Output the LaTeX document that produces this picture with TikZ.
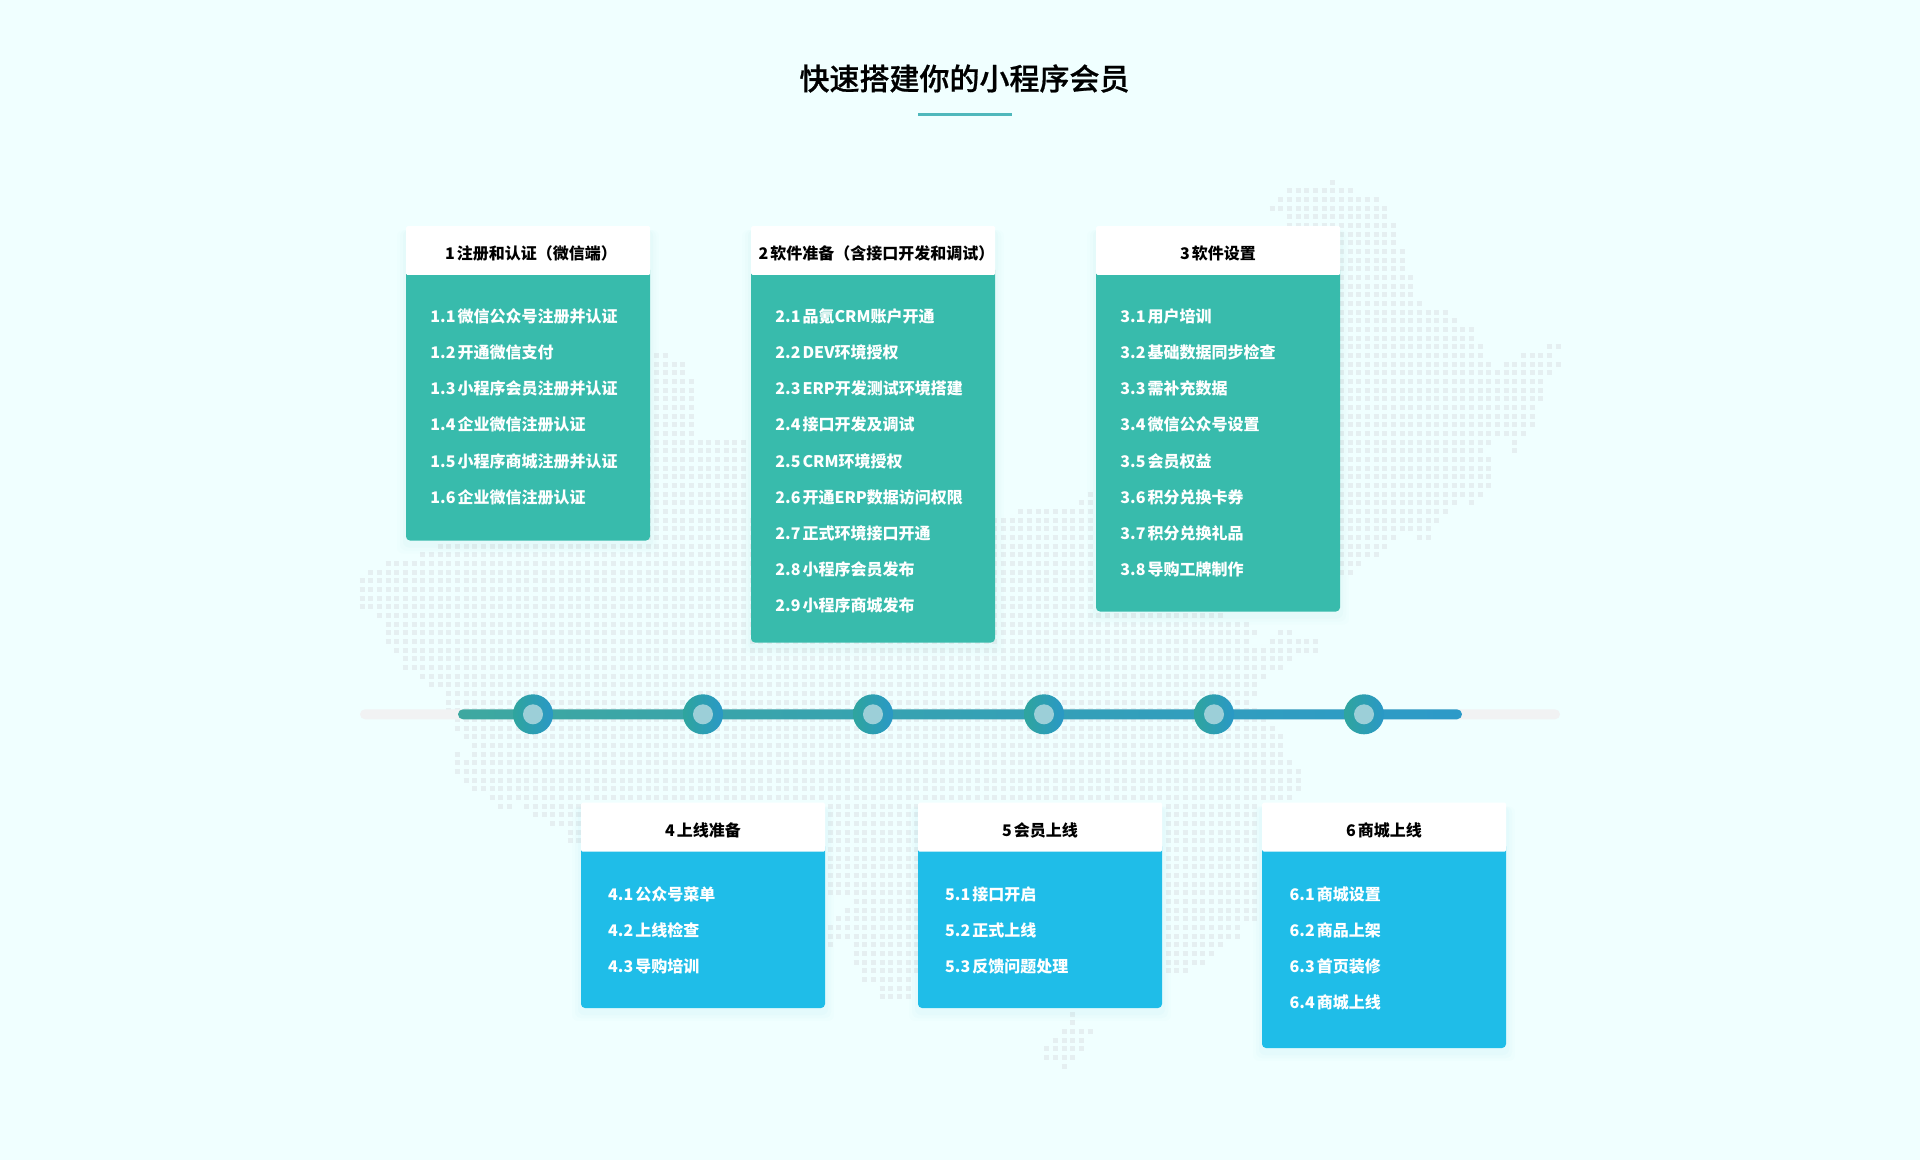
\documentclass[tikz,border=0pt]{standalone}
\usepackage{fontspec}
\setmainfont[WordSpace=0.55]{Noto Sans CJK SC}
\newfontface\titleface[FakeBold=0.7]{Noto Sans CJK SC Medium}
\definecolor{pagebg}{HTML}{F0FFFF}
\definecolor{dotgrey}{HTML}{E5EFF1}
\definecolor{tealbox}{HTML}{38BBAC}
\definecolor{bluebox}{HTML}{1FBDE8}
\definecolor{railgrey}{HTML}{F1F2F3}
\definecolor{railleft}{HTML}{3EA8A0}
\definecolor{railright}{HTML}{2D9AC8}
\definecolor{ringleft}{HTML}{2FA59E}
\definecolor{ringright}{HTML}{2A98C6}
\definecolor{hubcol}{HTML}{9CCFD8}
\definecolor{ruleteal}{HTML}{4FB8BC}
\tikzset{
  dotrow/.style={draw=dotgrey,line width=5pt,dash pattern=on 5pt off 3.667pt},
  headbox/.style={fill=white,inner sep=0pt,minimum width=244pt,minimum height=49pt,anchor=north west,
    rounded corners=1.5pt},
  headtext/.style={inner sep=0pt,font=\fontsize{16}{18}\selectfont\bfseries,text=black,text height=12pt,text depth=2pt},
  itemtext/.style={inner sep=0pt,anchor=west,font=\fontsize{16}{18}\selectfont\bfseries,text=white,text height=12pt,text depth=2pt},
  ring/.style={circle,inner sep=0pt,minimum size=40pt,left color=ringleft,right color=ringright},
  hub/.style={circle,inner sep=0pt,minimum size=20pt,fill=hubcol},
}
% name, left, top, bottom, colour, heading node, first-line y offset, text indent, items
\newcommand{\cardbox}[9]{%
  \foreach \g/\o in {9/0.010,6/0.015,3/0.022}{
    \fill[#5,opacity=\o,rounded corners=6pt] ({#2-\g},{#3+4}) rectangle ({#2+244+\g},{#4+4+\g});
  }
  \fill[#5,rounded corners=4pt] (#2,{#3+40}) rectangle ({#2+244},#4);
  \node[headbox] (h#1) at (#2,#3) {};
  \fill[#5] (#2,{#3+49}) rectangle ({#2+244},{#3+56});
  #6
  \foreach \t [count=\k from 0] in {#9}{
    \node[itemtext] (t#1-\k) at ({#2+#8},{#3+#7+36.15*\k}) {\t};
  }
}
\begin{document}
\begin{tikzpicture}[x=1pt,y=-1pt]
\fill[pagebg] (0,0) rectangle (1920,1160);
\useasboundingbox (0,0) rectangle (1920,1160);
% dotted map: row / first column / last column
\foreach \r/\a/\b in {
0/112/112,1/107/114,2/106/117,3/105/118,4/107/118,5/107/119,6/100/119,7/100/119,
8/100/120,9/100/120,10/100/120,11/100/121,12/100/121,13/100/121,14/100/122,15/100/125,
16/100/126,17/100/128,18/100/128,19/100/129,19/137/138,
20/34/35,20/100/129,20/134/137,21/34/37,21/100/130,21/132/138,22/34/37,22/100/137,
23/34/38,23/100/136,24/34/38,24/100/136,25/34/38,25/100/136,26/34/38,26/100/135,
27/34/38,27/100/135,28/34/38,28/100/135,29/34/38,29/100/134,
30/6/44,30/100/130,30/133/133,31/6/44,31/100/129,31/133/133,
32/6/44,32/100/130,33/6/44,33/100/130,34/6/44,34/100/130,35/6/44,35/100/130,
36/6/44,36/84/129,37/6/44,37/83/126,37/128/128,38/6/44,38/76/125,
39/6/124,40/6/123,41/6/119,41/122/123,42/9/118,43/7/117,44/3/115,45/1/114,
46/0/112,47/0/112,48/0/112,49/0/112,50/2/99,51/3/102,52/3/103,52/106/107,
53/3/102,53/105/110,54/4/110,55/5/107,56/5/106,57/7/104,58/8/103,59/10/103,60/10/102,
61/10/103,62/11/104,63/11/105,64/12/106,65/13/106,66/11/11,66/13/106,67/11/107,
68/11/108,69/12/108,70/13/108,71/15/107,72/16/17,72/19/103,73/20/103,74/22/103,
75/24/103,76/24/103,77/40/103,78/40/103,79/40/103,80/40/103,81/40/103,82/40/103,
83/57/103,84/56/103,85/55/103,86/54/101,87/54/101,88/54/54,88/57/99,89/57/98,
90/57/97,91/58/95,92/58/63,93/60/63,94/60/63,
96/82/82,97/82/82,98/81/84,99/80/83,100/79/83,101/79/82,102/81/81}{
  \draw[dotrow] ({362+8.6667*\a-2.5},{182+8.6667*\r}) -- ({362+8.6667*\b+2.5},{182+8.6667*\r});
}
% title
\node[inner sep=0pt,font=\fontsize{30}{34}\titleface,text=black] (title) at (964.5,78.5) {快速搭建你的小程序会员};
\coordinate (ruleL) at (918,114.5);
\coordinate (ruleR) at (1012,114.5);
\draw[ruleteal,line width=3pt] (ruleL) -- (ruleR);
% timeline
\coordinate (trackL) at (360,709.3);
\coordinate (trackR) at (1560,719.3);
\fill[railgrey,rounded corners=5pt] (trackL) rectangle (trackR);
\coordinate (railL) at (458,709.3);
\coordinate (railR) at (1462,719.3);
\path[left color=railleft,right color=railright,rounded corners=5pt] (railL) rectangle (railR);
\foreach \n/\x in {1/533,2/703,3/873,4/1044,5/1214,6/1364}{
  \node[ring] (ring\n) at (\x,714.3) {};
  \node[hub] (hub\n) at (\x,714.3) {};
}
% cards
\cardbox{1}{406}{226}{540.5}{tealbox}{\node[headtext] (ht1) at (531,254.5) {1 注册和认证（微信端）};}{91.5}{24.2}{1.1 微信公众号注册并认证,1.2 开通微信支付,1.3 小程序会员注册并认证,1.4 企业微信注册认证,1.5 小程序商城注册并认证,1.6 企业微信注册认证}
\cardbox{2}{751}{226}{642.5}{tealbox}{\node[headtext] (ht2) at (876.5,254.5) {2 软件准备（含接口开发和调试）};}{91.5}{24.2}{2.1 品氪CRM账户开通,2.2 DEV环境授权,2.3 ERP开发测试环境搭建,2.4 接口开发及调试,2.5 CRM环境授权,2.6 开通ERP数据访问权限,2.7 正式环境接口开通,2.8 小程序会员发布,2.9 小程序商城发布}
\cardbox{3}{1096}{226}{611.5}{tealbox}{\node[headtext] (ht3) at (1218,254.5) {3 软件设置};}{91.5}{24.2}{3.1 用户培训,3.2 基础数据同步检查,3.3 需补充数据,3.4 微信公众号设置,3.5 会员权益,3.6 积分兑换卡券,3.7 积分兑换礼品,3.8 导购工牌制作}
\cardbox{4}{581}{802.5}{1008}{bluebox}{\node[headtext] (ht4) at (703,831.3) {4 上线准备};}{92.6}{27}{4.1 公众号菜单,4.2 上线检查,4.3 导购培训}
\cardbox{5}{918}{802.5}{1008}{bluebox}{\node[headtext] (ht5) at (1040,831.3) {5 会员上线};}{92.6}{27}{5.1 接口开启,5.2 正式上线,5.3 反馈问题处理}
\cardbox{6}{1262}{802.5}{1048}{bluebox}{\node[headtext] (ht6) at (1384,831.3) {6 商城上线};}{92.6}{27.5}{6.1 商城设置,6.2 商品上架,6.3 首页装修,6.4 商城上线}
\end{tikzpicture}
\end{document}
